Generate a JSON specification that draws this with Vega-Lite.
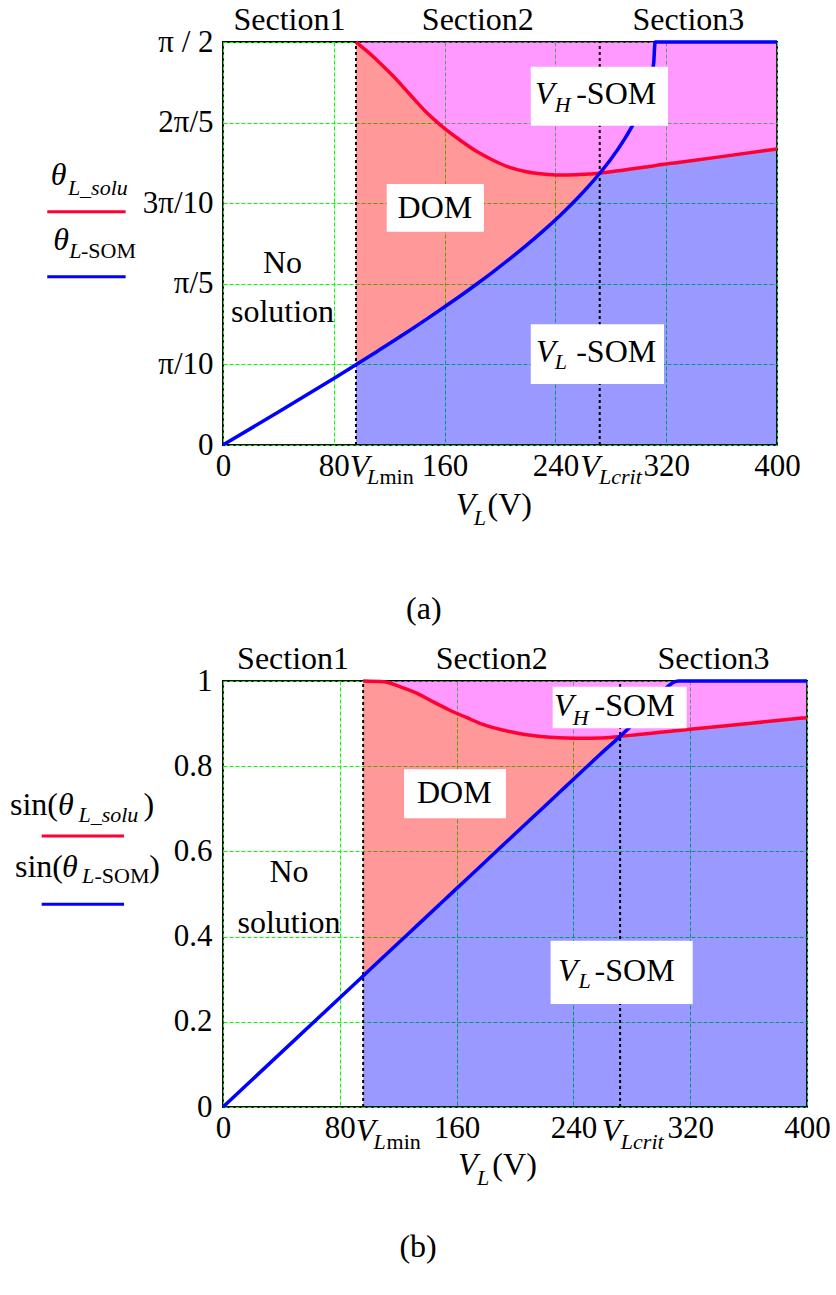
{
"$schema": "https://vega.github.io/schema/vega-lite/v6.json",
"background": "white",
"padding": {"left": 8, "top": 2, "right": 10, "bottom": 10},
"bounds": "flush",
"spacing": 236,
"resolve": {"scale": {"x": "independent", "y": "independent", "color": "independent"}},
"config": {
  "view": {"stroke": "black", "strokeWidth": 2},
  "axis": {"grid": true, "gridColor": "#00FF00", "gridDash": [4, 2], "gridWidth": 1, "gridOpacity": 1, "domain": false, "ticks": false, "labelFont": "Liberation Serif", "labelFontSize": 31, "labelColor": "black", "labelFlush": false, "labelOverlap": false},
  "text": {"font": "Liberation Serif", "fill": "black"}
},
"datasets": {
  "a": [
    {"V": 0, "som": 0}, {"V": 40, "som": 0.1286}, {"V": 80, "som": 0.2593},
    {"V": 96, "som": 0.3128, "solu": 1.5708}, {"V": 104, "som": 0.3398, "solu": 1.535},
    {"V": 111, "som": 0.3638, "solu": 1.501}, {"V": 123, "som": 0.4052, "solu": 1.437},
    {"V": 135, "som": 0.4475, "solu": 1.366}, {"V": 147, "som": 0.4907, "solu": 1.296},
    {"V": 159, "som": 0.5348, "solu": 1.238}, {"V": 171, "som": 0.58, "solu": 1.189},
    {"V": 183, "som": 0.6267, "solu": 1.145}, {"V": 195, "som": 0.6751, "solu": 1.11},
    {"V": 207, "som": 0.7255, "solu": 1.082}, {"V": 219, "som": 0.7781, "solu": 1.065},
    {"V": 231, "som": 0.8336, "solu": 1.056}, {"V": 243, "som": 0.8927, "solu": 1.052},
    {"V": 255, "som": 0.9567, "solu": 1.053}, {"V": 264, "som": 1.0089, "solu": 1.056},
    {"V": 272, "som": 1.0592, "solu": 1.0592}, {"V": 280, "som": 1.1137, "solu": 1.065},
    {"V": 290, "som": 1.1934, "solu": 1.072}, {"V": 296, "som": 1.249, "solu": 1.077},
    {"V": 300, "som": 1.2924, "solu": 1.08}, {"V": 304, "som": 1.3442, "solu": 1.083},
    {"V": 307, "som": 1.3917, "solu": 1.085}, {"V": 309, "som": 1.4321, "solu": 1.086},
    {"V": 311, "som": 1.4908, "solu": 1.088}, {"V": 312, "som": 1.5708, "solu": 1.089},
    {"V": 330, "som": 1.5708, "solu": 1.102}, {"V": 360, "som": 1.5708, "solu": 1.124},
    {"V": 400, "som": 1.5708, "solu": 1.154}
  ],
  "b": [
    {"V": 0, "som": 0}, {"V": 96, "som": 0.3077, "solu": 1},
    {"V": 110, "som": 0.3526, "solu": 0.998}, {"V": 121, "som": 0.3878, "solu": 0.987},
    {"V": 133, "som": 0.4263, "solu": 0.971}, {"V": 144, "som": 0.4615, "solu": 0.951},
    {"V": 155, "som": 0.4968, "solu": 0.932}, {"V": 167, "som": 0.5353, "solu": 0.914},
    {"V": 178, "som": 0.5705, "solu": 0.898}, {"V": 190, "som": 0.609, "solu": 0.886},
    {"V": 201, "som": 0.6442, "solu": 0.878}, {"V": 212, "som": 0.6795, "solu": 0.872},
    {"V": 224, "som": 0.7179, "solu": 0.868}, {"V": 235, "som": 0.7532, "solu": 0.866},
    {"V": 247, "som": 0.7917, "solu": 0.8655}, {"V": 258, "som": 0.8269, "solu": 0.866},
    {"V": 272, "som": 0.87, "solu": 0.87}, {"V": 290, "som": 0.9295, "solu": 0.876},
    {"V": 312, "som": 1, "solu": 0.884}, {"V": 320, "som": 1, "solu": 0.8865},
    {"V": 360, "som": 1, "solu": 0.9005}, {"V": 400, "som": 1, "solu": 0.914}
  ],
  "marks": [{"V": 96}, {"V": 272}],
  "a_boxes": [
    {"x1": 118.2, "x2": 188.4, "y1": 0.8314, "y2": 1.0173},
    {"x1": 222.2, "x2": 321.3, "y1": 1.2446, "y2": 1.4745},
    {"x1": 222.2, "x2": 318.4, "y1": 0.2378, "y2": 0.4705}
  ],
  "b_boxes": [
    {"x1": 124, "x2": 193.8, "y1": 0.6777, "y2": 0.7927},
    {"x1": 225.8, "x2": 317.6, "y1": 0.889, "y2": 0.9866},
    {"x1": 224.4, "x2": 321.7, "y1": 0.2418, "y2": 0.39}
  ],
  "a_leg": [
    {"s": "solu", "x1": -126.9, "x2": -70.3, "y": 0.9093},
    {"s": "som", "x1": -126.9, "x2": -70.3, "y": 0.656}
  ],
  "b_leg": [
    {"s": "solu", "x1": -124.2, "x2": -67.8, "y": 0.6362},
    {"s": "som", "x1": -124.2, "x2": -67.8, "y": 0.4758}
  ],
  "a_text": [
    {"t": "Section1", "k": "c", "V": 48, "y": 1.6176},
    {"t": "Section2", "k": "c", "V": 184, "y": 1.6176},
    {"t": "Section3", "k": "c", "V": 336, "y": 1.6176},
    {"t": "No", "k": "c", "V": 43, "y": 0.669},
    {"t": "solution", "k": "c", "V": 43, "y": 0.481},
    {"t": "DOM", "k": "c", "V": 153, "y": 0.884},
    {"t": "(a)", "k": "c", "V": 145, "y": -0.68},
    {"t": "V", "k": "i", "V": 225.3, "y": 1.3291},
    {"t": "V", "k": "i", "V": 226, "y": 0.3247},
    {"t": "V", "k": "i", "V": 91.5, "y": -0.1236},
    {"t": "V", "k": "i", "V": 258, "y": -0.1236},
    {"t": "V", "k": "i", "V": 168, "y": -0.2728},
    {"t": "θ", "k": "i", "V": -124.4, "y": 1.0134},
    {"t": "θ", "k": "i", "V": -122.5, "y": 0.76},
    {"t": "-SOM", "k": "n", "V": 255, "y": 1.3291},
    {"t": "-SOM", "k": "n", "V": 255, "y": 0.3247},
    {"t": "(V)", "k": "n", "V": 191, "y": -0.2728},
    {"t": "H", "k": "si", "V": 239.5, "y": 1.298},
    {"t": "L", "k": "si", "V": 239.5, "y": 0.2951},
    {"t": "L", "k": "si", "V": 104, "y": -0.152},
    {"t": "Lcrit", "k": "si", "V": 271.5, "y": -0.152},
    {"t": "L", "k": "si", "V": 181, "y": -0.3118},
    {"t": "L_solu", "k": "si", "V": -112, "y": 0.9744},
    {"t": "L", "k": "si", "V": -111, "y": 0.7277},
    {"t": "min", "k": "sn", "V": 113, "y": -0.152},
    {"t": "-SOM", "k": "sn", "V": -102.5, "y": 0.7277}
  ],
  "b_text": [
    {"t": "Section1", "k": "c", "V": 48, "y": 1.0282},
    {"t": "Section2", "k": "c", "V": 184, "y": 1.0282},
    {"t": "Section3", "k": "c", "V": 336, "y": 1.0282},
    {"t": "No", "k": "c", "V": 45.2, "y": 0.5289},
    {"t": "solution", "k": "c", "V": 45.2, "y": 0.4077},
    {"t": "DOM", "k": "c", "V": 158.4, "y": 0.7129},
    {"t": "(b)", "k": "c", "V": 133.6, "y": -0.352},
    {"t": "V", "k": "i", "V": 226.7, "y": 0.9178},
    {"t": "V", "k": "i", "V": 229.5, "y": 0.2958},
    {"t": "V", "k": "i", "V": 91, "y": -0.0798},
    {"t": "V", "k": "i", "V": 259.5, "y": -0.0798},
    {"t": "V", "k": "i", "V": 161, "y": -0.1596},
    {"t": "θ", "k": "i", "V": -113, "y": 0.6854},
    {"t": "θ", "k": "i", "V": -110.3, "y": 0.5406},
    {"t": "-SOM", "k": "n", "V": 254.5, "y": 0.9178},
    {"t": "-SOM", "k": "n", "V": 254.5, "y": 0.2958},
    {"t": "(V)", "k": "n", "V": 184.5, "y": -0.1596},
    {"t": "sin(", "k": "n", "V": -145.9, "y": 0.6854},
    {"t": ")", "k": "n", "V": -54.5, "y": 0.6854},
    {"t": "sin(", "k": "n", "V": -142.5, "y": 0.5406},
    {"t": ")", "k": "n", "V": -50.5, "y": 0.5406},
    {"t": "H", "k": "si", "V": 239.5, "y": 0.8967},
    {"t": "L", "k": "si", "V": 243.5, "y": 0.2786},
    {"t": "L", "k": "si", "V": 103, "y": -0.0985},
    {"t": "Lcrit", "k": "si", "V": 272.5, "y": -0.0985},
    {"t": "L", "k": "si", "V": 174, "y": -0.183},
    {"t": "L_solu", "k": "si", "V": -99, "y": 0.6697},
    {"t": "L", "k": "si", "V": -96.5, "y": 0.5251},
    {"t": "min", "k": "sn", "V": 112, "y": -0.0985},
    {"t": "-SOM", "k": "sn", "V": -88, "y": 0.5251}
  ]
},
"vconcat": [
  {
    "width": 554, "height": 403,
    "layer": [
      {"data": {"name": "a"}, "transform": [{"filter": "datum.V >= 96 && datum.V <= 272"}],
       "mark": {"type": "area", "color": "#0000FF", "opacity": 0.4, "interpolate": "monotone"},
       "encoding": {
         "x": {"field": "V", "type": "quantitative", "title": null, "scale": {"domain": [0, 400], "nice": false, "zero": false}, "axis": {"values": [0, 80, 160, 240, 320, 400], "labelPadding": 6}},
         "y": {"field": "som", "type": "quantitative", "title": null, "scale": {"domain": [0, 1.5708], "nice": false, "zero": false}, "axis": {"values": [0, 0.314159, 0.628319, 0.942478, 1.256637, 1.570796], "labelPadding": 10, "labelExpr": "datum.value < 0.1 ? '0' : datum.value < 0.4 ? 'π/10' : datum.value < 0.7 ? 'π/5' : datum.value < 1.0 ? '3π/10' : datum.value < 1.4 ? '2π/5' : 'π / 2'"}},
         "y2": {"datum": 0}}},
      {"data": {"name": "a"}, "transform": [{"filter": "datum.V >= 272"}],
       "mark": {"type": "area", "color": "#0000FF", "opacity": 0.4, "interpolate": "monotone"},
       "encoding": {"x": {"field": "V", "type": "quantitative", "title": null}, "y": {"field": "solu", "type": "quantitative", "title": null}, "y2": {"datum": 0}}},
      {"data": {"name": "a"}, "transform": [{"filter": "datum.V >= 96 && datum.V <= 272"}],
       "mark": {"type": "area", "color": "#FF0000", "opacity": 0.4, "interpolate": "monotone"},
       "encoding": {"x": {"field": "V", "type": "quantitative", "title": null}, "y": {"field": "som", "type": "quantitative", "title": null}, "y2": {"field": "solu"}}},
      {"data": {"name": "a"}, "transform": [{"filter": "datum.V >= 96"}],
       "mark": {"type": "area", "color": "#FF00FF", "opacity": 0.4, "interpolate": "monotone"},
       "encoding": {"x": {"field": "V", "type": "quantitative", "title": null}, "y": {"field": "solu", "type": "quantitative", "title": null}, "y2": {"datum": 1.5708}}},
      {"data": {"name": "marks"},
       "mark": {"type": "rule", "color": "black", "strokeWidth": 2, "strokeDash": [3, 3]},
       "encoding": {"x": {"field": "V", "type": "quantitative", "title": null}, "y": {"datum": 0}, "y2": {"datum": 1.5708}}},
      {"data": {"name": "a"}, "transform": [{"filter": "isValid(datum.solu)"}],
       "mark": {"type": "line", "color": "#FF0033", "strokeWidth": 3.5, "interpolate": "monotone"},
       "encoding": {"x": {"field": "V", "type": "quantitative", "title": null}, "y": {"field": "solu", "type": "quantitative", "title": null}}},
      {"data": {"name": "a"},
       "mark": {"type": "line", "color": "#0000FF", "strokeWidth": 3.5, "interpolate": "monotone"},
       "encoding": {"x": {"field": "V", "type": "quantitative", "title": null}, "y": {"field": "som", "type": "quantitative", "title": null}}},
      {"data": {"name": "a_boxes"},
       "mark": {"type": "rect", "color": "white", "opacity": 1},
       "encoding": {"x": {"field": "x1", "type": "quantitative", "title": null}, "x2": {"field": "x2"}, "y": {"field": "y1", "type": "quantitative", "title": null}, "y2": {"field": "y2"}}},
      {"data": {"name": "a_leg"},
       "mark": {"type": "rule", "strokeWidth": 3},
       "encoding": {"x": {"field": "x1", "type": "quantitative", "title": null}, "x2": {"field": "x2"}, "y": {"field": "y", "type": "quantitative", "title": null},
         "color": {"field": "s", "type": "nominal", "legend": null, "scale": {"domain": ["solu", "som"], "range": ["#FF0033", "#0000FF"]}}}},
      {"data": {"name": "a_text"}, "transform": [{"filter": "datum.k == 'c'"}],
       "mark": {"type": "text", "fontSize": 32, "align": "center", "baseline": "alphabetic"},
       "encoding": {"x": {"field": "V", "type": "quantitative", "title": null}, "y": {"field": "y", "type": "quantitative", "title": null}, "text": {"field": "t"}}},
      {"data": {"name": "a_text"}, "transform": [{"filter": "datum.k == 'n'"}],
       "mark": {"type": "text", "fontSize": 32, "align": "left", "baseline": "alphabetic"},
       "encoding": {"x": {"field": "V", "type": "quantitative", "title": null}, "y": {"field": "y", "type": "quantitative", "title": null}, "text": {"field": "t"}}},
      {"data": {"name": "a_text"}, "transform": [{"filter": "datum.k == 'i'"}],
       "mark": {"type": "text", "fontSize": 32, "fontStyle": "italic", "align": "left", "baseline": "alphabetic"},
       "encoding": {"x": {"field": "V", "type": "quantitative", "title": null}, "y": {"field": "y", "type": "quantitative", "title": null}, "text": {"field": "t"}}},
      {"data": {"name": "a_text"}, "transform": [{"filter": "datum.k == 'si'"}],
       "mark": {"type": "text", "fontSize": 22, "fontStyle": "italic", "align": "left", "baseline": "alphabetic"},
       "encoding": {"x": {"field": "V", "type": "quantitative", "title": null}, "y": {"field": "y", "type": "quantitative", "title": null}, "text": {"field": "t"}}},
      {"data": {"name": "a_text"}, "transform": [{"filter": "datum.k == 'sn'"}],
       "mark": {"type": "text", "fontSize": 22, "align": "left", "baseline": "alphabetic"},
       "encoding": {"x": {"field": "V", "type": "quantitative", "title": null}, "y": {"field": "y", "type": "quantitative", "title": null}, "text": {"field": "t"}}}
    ]
  },
  {
    "width": 584, "height": 426,
    "layer": [
      {"data": {"name": "b"}, "transform": [{"filter": "datum.V >= 96 && datum.V <= 272"}],
       "mark": {"type": "area", "color": "#0000FF", "opacity": 0.4, "interpolate": "monotone"},
       "encoding": {
         "x": {"field": "V", "type": "quantitative", "title": null, "scale": {"domain": [0, 400], "nice": false, "zero": false}, "axis": {"values": [0, 80, 160, 240, 320, 400], "labelPadding": 6}},
         "y": {"field": "som", "type": "quantitative", "title": null, "scale": {"domain": [0, 1], "nice": false, "zero": false}, "axis": {"values": [0, 0.2, 0.4, 0.6, 0.8, 1], "format": "~g", "labelPadding": 11}},
         "y2": {"datum": 0}}},
      {"data": {"name": "b"}, "transform": [{"filter": "datum.V >= 272"}],
       "mark": {"type": "area", "color": "#0000FF", "opacity": 0.4, "interpolate": "monotone"},
       "encoding": {"x": {"field": "V", "type": "quantitative", "title": null}, "y": {"field": "solu", "type": "quantitative", "title": null}, "y2": {"datum": 0}}},
      {"data": {"name": "b"}, "transform": [{"filter": "datum.V >= 96 && datum.V <= 272"}],
       "mark": {"type": "area", "color": "#FF0000", "opacity": 0.4, "interpolate": "monotone"},
       "encoding": {"x": {"field": "V", "type": "quantitative", "title": null}, "y": {"field": "som", "type": "quantitative", "title": null}, "y2": {"field": "solu"}}},
      {"data": {"name": "b"}, "transform": [{"filter": "datum.V >= 96"}],
       "mark": {"type": "area", "color": "#FF00FF", "opacity": 0.4, "interpolate": "monotone"},
       "encoding": {"x": {"field": "V", "type": "quantitative", "title": null}, "y": {"field": "solu", "type": "quantitative", "title": null}, "y2": {"datum": 1}}},
      {"data": {"name": "marks"},
       "mark": {"type": "rule", "color": "black", "strokeWidth": 2, "strokeDash": [3, 3]},
       "encoding": {"x": {"field": "V", "type": "quantitative", "title": null}, "y": {"datum": 0}, "y2": {"datum": 1}}},
      {"data": {"name": "b"}, "transform": [{"filter": "isValid(datum.solu)"}],
       "mark": {"type": "line", "color": "#FF0033", "strokeWidth": 3.5, "interpolate": "monotone"},
       "encoding": {"x": {"field": "V", "type": "quantitative", "title": null}, "y": {"field": "solu", "type": "quantitative", "title": null}}},
      {"data": {"name": "b"},
       "mark": {"type": "line", "color": "#0000FF", "strokeWidth": 3.5, "interpolate": "monotone"},
       "encoding": {"x": {"field": "V", "type": "quantitative", "title": null}, "y": {"field": "som", "type": "quantitative", "title": null}}},
      {"data": {"name": "b_boxes"},
       "mark": {"type": "rect", "color": "white", "opacity": 1},
       "encoding": {"x": {"field": "x1", "type": "quantitative", "title": null}, "x2": {"field": "x2"}, "y": {"field": "y1", "type": "quantitative", "title": null}, "y2": {"field": "y2"}}},
      {"data": {"name": "b_leg"},
       "mark": {"type": "rule", "strokeWidth": 3},
       "encoding": {"x": {"field": "x1", "type": "quantitative", "title": null}, "x2": {"field": "x2"}, "y": {"field": "y", "type": "quantitative", "title": null},
         "color": {"field": "s", "type": "nominal", "legend": null, "scale": {"domain": ["solu", "som"], "range": ["#FF0033", "#0000FF"]}}}},
      {"data": {"name": "b_text"}, "transform": [{"filter": "datum.k == 'c'"}],
       "mark": {"type": "text", "fontSize": 32, "align": "center", "baseline": "alphabetic"},
       "encoding": {"x": {"field": "V", "type": "quantitative", "title": null}, "y": {"field": "y", "type": "quantitative", "title": null}, "text": {"field": "t"}}},
      {"data": {"name": "b_text"}, "transform": [{"filter": "datum.k == 'n'"}],
       "mark": {"type": "text", "fontSize": 32, "align": "left", "baseline": "alphabetic"},
       "encoding": {"x": {"field": "V", "type": "quantitative", "title": null}, "y": {"field": "y", "type": "quantitative", "title": null}, "text": {"field": "t"}}},
      {"data": {"name": "b_text"}, "transform": [{"filter": "datum.k == 'i'"}],
       "mark": {"type": "text", "fontSize": 32, "fontStyle": "italic", "align": "left", "baseline": "alphabetic"},
       "encoding": {"x": {"field": "V", "type": "quantitative", "title": null}, "y": {"field": "y", "type": "quantitative", "title": null}, "text": {"field": "t"}}},
      {"data": {"name": "b_text"}, "transform": [{"filter": "datum.k == 'si'"}],
       "mark": {"type": "text", "fontSize": 22, "fontStyle": "italic", "align": "left", "baseline": "alphabetic"},
       "encoding": {"x": {"field": "V", "type": "quantitative", "title": null}, "y": {"field": "y", "type": "quantitative", "title": null}, "text": {"field": "t"}}},
      {"data": {"name": "b_text"}, "transform": [{"filter": "datum.k == 'sn'"}],
       "mark": {"type": "text", "fontSize": 22, "align": "left", "baseline": "alphabetic"},
       "encoding": {"x": {"field": "V", "type": "quantitative", "title": null}, "y": {"field": "y", "type": "quantitative", "title": null}, "text": {"field": "t"}}}
    ]
  }
]
}
